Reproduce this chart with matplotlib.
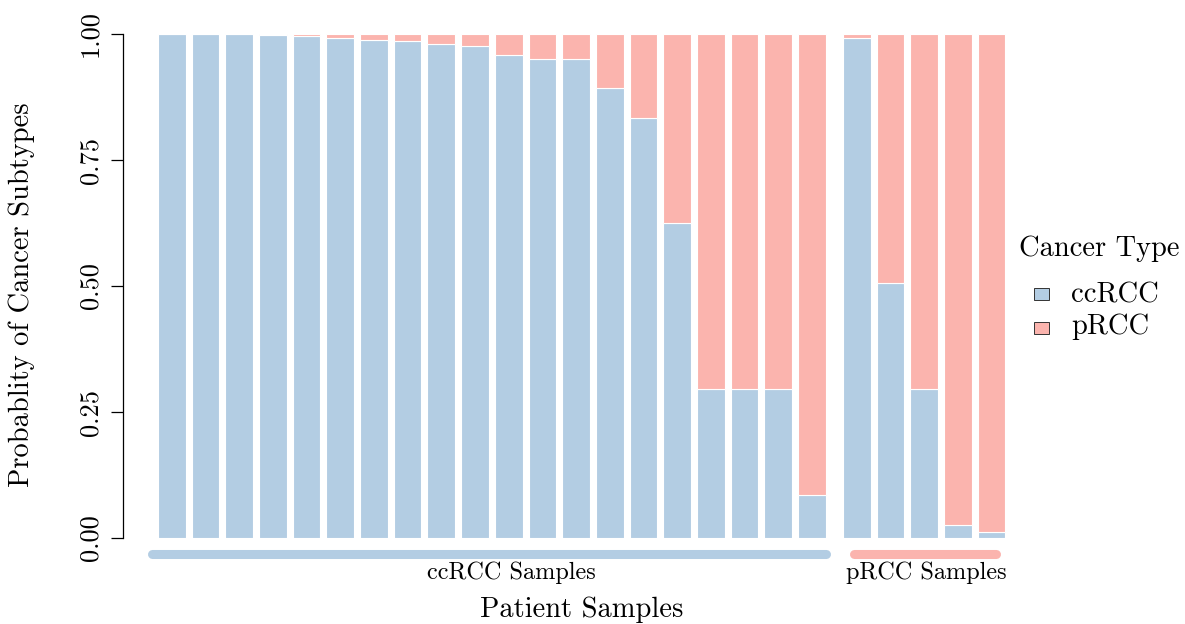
import matplotlib
matplotlib.use("Agg")
import matplotlib.pyplot as plt
from matplotlib.patches import Rectangle
import numpy as np

plt.rcParams['font.family'] = ['cmr10', 'DejaVu Serif']
plt.rcParams['mathtext.fontset'] = 'cm'
plt.rcParams['axes.unicode_minus'] = False
plt.rcParams['axes.formatter.use_mathtext'] = True

# data
cc_prob_ccRCC = [1.0, 1.0, 1.0, 0.999, 0.997, 0.993, 0.9875, 0.9855, 0.981, 0.977,
                 0.959, 0.951, 0.950, 0.892, 0.834, 0.625, 0.296, 0.296, 0.296, 0.085]
p_prob_ccRCC = [0.993, 0.506, 0.296, 0.025, 0.012]
legend_labels = ["ccRCC", "pRCC"]
group_labels = ["ccRCC Samples", "pRCC Samples"]
yticks = [0.0, 0.25, 0.5, 0.75, 1.0]
ytick_labels = ["0.00", "0.25", "0.50", "0.75", "1.00"]

c_blue = "#B3CDE3"
c_pink = "#FBB4AE"

W, H = 1185, 624
fig = plt.figure(figsize=(W / 100, H / 100), dpi=100)
ax = fig.add_axes([123 / W, 86 / H, (1012 - 123) / W, 504 / H])

pitch = 33.7
x0px = 171.7
gap = 20.33
x_cc = np.arange(len(cc_prob_ccRCC), dtype=float)
x_p = gap + np.arange(len(p_prob_ccRCC), dtype=float)
xs = np.concatenate([x_cc, x_p])
blue = np.array(cc_prob_ccRCC + p_prob_ccRCC)
pink = 1 - blue

bw = 0.82
ax.bar(xs, blue, width=bw, color=c_blue, edgecolor="white", linewidth=0.8)
ax.bar(xs, pink, width=bw, bottom=blue, color=c_pink, edgecolor="white", linewidth=0.8)

ax.set_xlim((123 - x0px) / pitch, (1012 - x0px) / pitch)
ax.set_ylim(0, 1)

for s in ["top", "right", "bottom"]:
    ax.spines[s].set_visible(False)
ax.spines["left"].set_linewidth(0.9)
ax.set_xticks([])
ax.set_yticks(yticks)
ax.set_yticklabels(ytick_labels, rotation=90, va="center", fontsize=19)
ax.tick_params(axis="y", length=9, width=0.9, pad=6)

# group bands
band_y = -0.032
ax.plot([-0.59, 19.43], [band_y, band_y], color=c_blue, lw=6.5,
        solid_capstyle="round", clip_on=False)
ax.plot([20.26, 24.45], [band_y, band_y], color=c_pink, lw=6.5,
        solid_capstyle="round", clip_on=False)
ax.text(10.07, -0.068, group_labels[0], ha="center", va="center", fontsize=17.5, clip_on=False)
ax.text(22.4, -0.068, group_labels[1], ha="center", va="center", fontsize=17.5, clip_on=False)

fig.text(582 / W, 1 - 610 / H, "Patient Samples", ha="center", va="center", fontsize=20.5)
fig.text(22 / W, 1 - 295 / H, "Probablity of Cancer Subtypes", ha="center", va="center",
         rotation=90, fontsize=20.5)

# legend (drawn manually for exact placement)
fig.text(1019 / W, 1 - 256 / H, "Cancer Type", ha="left", va="baseline", fontsize=20.5)
leg_colors = [c_blue, c_pink]
sq_top = [288, 321.5]
txt_base = [302, 334]
for lab, col, st, tb in zip(legend_labels, leg_colors, sq_top, txt_base):
    fig.patches.append(Rectangle((1034 / W, 1 - (st + 12) / H), 15 / W, 12 / H,
                                 transform=fig.transFigure, facecolor=col,
                                 edgecolor="#333333", linewidth=0.7))
    fig.text(1071 / W, 1 - tb / H, lab, ha="left", va="baseline", fontsize=20.5)

fig.savefig("out.png", dpi=100)
